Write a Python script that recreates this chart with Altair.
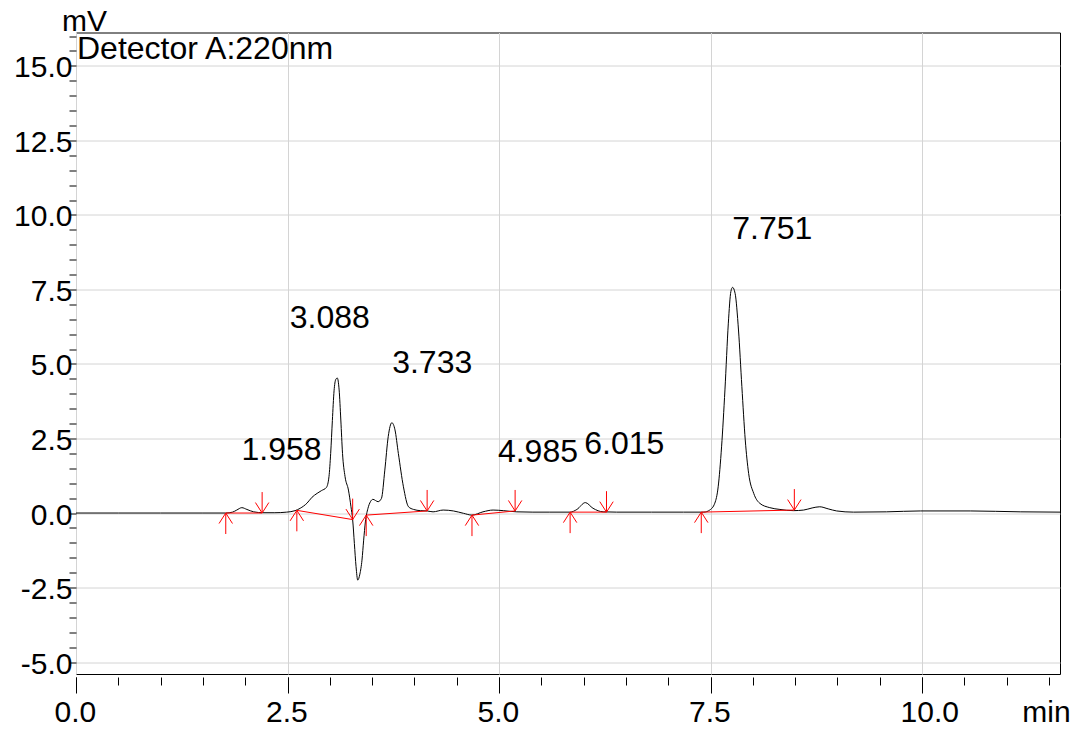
import altair as alt
import pandas as pd

FONT = "Liberation Sans"

# ---- chromatogram trace (time in min, signal in mV) ----
time_min = [0.00, 0.50, 1.00, 1.50, 1.77, 1.85, 1.90, 1.96, 2.02, 2.10, 2.21, 2.35,
            2.49, 2.59, 2.65, 2.73, 2.79, 2.85, 2.90, 2.96, 2.99, 3.01, 3.03, 3.05,
            3.07, 3.088, 3.11, 3.13, 3.15, 3.18, 3.22, 3.25, 3.27, 3.29, 3.31, 3.33,
            3.355, 3.38, 3.40, 3.42, 3.45, 3.48, 3.51, 3.54, 3.57, 3.61, 3.65, 3.69,
            3.733, 3.77, 3.81, 3.87, 3.93, 3.99, 4.07, 4.15, 4.22, 4.34, 4.46, 4.58,
            4.68, 4.81, 4.93, 5.05, 5.21, 5.40, 5.60, 5.84, 5.92, 6.02, 6.11, 6.23,
            6.39, 6.80, 7.18, 7.42, 7.49, 7.55, 7.59, 7.63, 7.67, 7.71, 7.74, 7.76,
            7.79, 7.83, 7.87, 7.91, 7.95, 8.01, 8.08, 8.20, 8.32, 8.48, 8.60, 8.70,
            8.79, 8.89, 8.99, 9.19, 9.58, 9.98, 10.57, 11.16, 11.63]
signal_mv = [0.00, 0.00, 0.00, 0.00, 0.00, 0.03, 0.10, 0.18, 0.12, 0.04, 0.01, 0.01,
             0.03, 0.08, 0.16, 0.33, 0.53, 0.66, 0.75, 0.86, 1.22, 2.00, 3.10, 4.10,
             4.48, 4.53, 4.13, 3.12, 2.00, 1.22, 0.77, 0.21, -0.23, -1.02, -1.80, -2.25,
             -2.05, -1.58, -0.91, -0.30, 0.15, 0.38, 0.46, 0.42, 0.38, 0.49, 1.44, 2.56,
             3.03, 2.79, 2.00, 0.88, 0.21, 0.12, 0.08, 0.07, 0.04, 0.10, 0.07, -0.01,
             -0.07, 0.04, 0.10, 0.08, 0.04, 0.03, 0.03, 0.03, 0.12, 0.35, 0.16, 0.04,
             0.03, 0.03, 0.03, 0.03, 0.10, 0.33, 0.88, 2.22, 4.13, 6.37, 7.43, 7.57,
             7.37, 6.14, 4.24, 2.45, 1.33, 0.66, 0.33, 0.18, 0.12, 0.08, 0.10, 0.17,
             0.21, 0.14, 0.07, 0.03, 0.04, 0.07, 0.07, 0.04, 0.03]

# ---- peak retention-time labels ----
peak_labels = ["1.958", "3.088", "3.733", "4.985", "6.015", "7.751"]
label_t = [2.43, 3.00, 4.21, 5.46, 6.48, 8.23]
label_v = [2.11, 6.54, 5.03, 2.05, 2.32, 9.53]

# ---- integration baselines: peak start (up arrow) and end (down arrow) ----
start_t = [1.77, 2.61, 3.43, 4.68, 5.84, 7.39]
start_v = [0.00, 0.09, -0.07, -0.07, 0.03, 0.03]
end_t = [2.20, 3.27, 4.15, 5.19, 6.27, 8.49]
end_v = [0.00, -0.22, 0.07, 0.07, 0.03, 0.10]

# ---- axes ----
x_major = [0.0, 2.5, 5.0, 7.5, 10.0]
x_minor = [0.0, 0.5, 1.0, 1.5, 2.0, 2.5, 3.0, 3.5, 4.0, 4.5, 5.0, 5.5, 6.0, 6.5,
           7.0, 7.5, 8.0, 8.5, 9.0, 9.5, 10.0, 10.5, 11.0, 11.5]
y_ticks = [-5.0, -4.5, -4.0, -3.5, -3.0, -2.5, -2.0, -1.5, -1.0, -0.5, 0.0, 0.5,
           1.0, 1.5, 2.0, 2.5, 3.0, 3.5, 4.0, 4.5, 5.0, 5.5, 6.0, 6.5, 7.0, 7.5,
           8.0, 8.5, 9.0, 9.5, 10.0, 10.5, 11.0, 11.5, 12.0, 12.5, 13.0, 13.5,
           14.0, 14.5, 15.0, 15.5, 16.0]
x_domain = [0.0, 11.63]
y_domain = [-5.4, 16.12]
detector_text = "Detector A:220nm"

trace_df = pd.DataFrame({"t": time_min, "v": signal_mv})
labels_df = pd.DataFrame({"t": label_t, "v": label_v, "label": peak_labels})
seg_df = pd.DataFrame({"t0": start_t, "v0": start_v, "t1": end_t, "v1": end_v})
start_df = pd.DataFrame({"t": start_t, "v": start_v})
end_df = pd.DataFrame({"t": end_t, "v": end_v})
det_df = pd.DataFrame({"label": [detector_text]})

xs = alt.Scale(domain=x_domain, nice=False, zero=False)
ys = alt.Scale(domain=y_domain, nice=False, zero=False)

major_cond = "abs(datum.value % 2.5) < 0.01"

x_axis_major = alt.Axis(
    orient="bottom", values=x_major, format=".1f", offset=3, domain=False,
    tickSize=16, tickColor="black", tickWidth=1,
    grid=True, gridColor="#d4d4d4", gridWidth=1,
    labelFont=FONT, labelFontSize=30, labelColor="black",
    labelAlign="left", labelOffset=-22, labelBaseline="alphabetic", labelPadding=28,
    labelFlush=False, labelOverlap=False, labelBound=False,
    title="min", titleFont=FONT, titleFontSize=30, titleFontWeight="normal",
    titleColor="black", titleX=970, titleY=44, titleAlign="center",
    titleBaseline="alphabetic", titleAngle=0,
)
x_axis_minor = alt.Axis(
    orient="bottom", values=x_minor, offset=3, domain=False,
    tickSize=8, tickColor="black", tickWidth=1,
    grid=False, labels=False, title="",
)
y_axis = alt.Axis(
    orient="left", values=y_ticks, domain=False,
    tickSize=7, tickColor="black", tickWidth=1,
    grid=True, gridColor="#d4d4d4", gridWidth=1,
    gridOpacity=alt.condition(major_cond, alt.value(1), alt.value(0)),
    labelExpr=("abs(datum.value % 2.5) < 0.01 ? "
               "((datum.value < 0 ? '-' : '') + format(abs(datum.value), '.1f')) : ''"),
    labelFont=FONT, labelFontSize=30, labelColor="black",
    labelPadding=-3, labelBaseline="middle", labelOffset=2,
    labelFlush=False, labelOverlap=False, labelBound=False,
    title="mV", titleFont=FONT, titleFontSize=30, titleFontWeight="normal",
    titleColor="black", titleAngle=0, titleX=8, titleY=-2.5,
    titleAlign="center", titleBaseline="alphabetic",
)

trace = alt.Chart(trace_df).mark_line(
    color="black", strokeWidth=1, interpolate="monotone", clip=True
).encode(
    x=alt.X("t:Q", scale=xs, axis=x_axis_major),
    y=alt.Y("v:Q", scale=ys, axis=y_axis),
)

baselines = alt.Chart(seg_df).mark_rule(color="red", strokeWidth=1).encode(
    x=alt.X("t0:Q", scale=xs, axis=x_axis_minor),
    x2="t1:Q",
    y=alt.Y("v0:Q", scale=ys, axis=y_axis),
    y2="v1:Q",
)

UP = "M0,0L0,2M-0.64,1L0,0L0.64,1"
DOWN = "M0,0L0,-2M-0.64,-1L0,0L0.64,-1"

up_arrows = alt.Chart(start_df).mark_point(
    shape=UP, size=440, filled=False, color="red", strokeWidth=1, opacity=1
).encode(
    x=alt.X("t:Q", scale=xs, axis=None),
    y=alt.Y("v:Q", scale=ys, axis=y_axis),
)
down_arrows = alt.Chart(end_df).mark_point(
    shape=DOWN, size=440, filled=False, color="red", strokeWidth=1, opacity=1
).encode(
    x=alt.X("t:Q", scale=xs, axis=None),
    y=alt.Y("v:Q", scale=ys, axis=y_axis),
)

peak_text = alt.Chart(labels_df).mark_text(
    font=FONT, fontSize=32, color="black", align="center", baseline="middle"
).encode(
    x=alt.X("t:Q", scale=xs, axis=None),
    y=alt.Y("v:Q", scale=ys, axis=y_axis),
    text="label:N",
)

det_text = alt.Chart(det_df).mark_text(
    font=FONT, fontSize=32, color="black", align="left", baseline="alphabetic"
).encode(
    x=alt.value(1), y=alt.value(26), text="label:N",
)

chart = alt.layer(
    trace, baselines, up_arrows, down_arrows, peak_text, det_text
).resolve_axis(
    x="independent"
).properties(
    width=984, height=641.5,
    autosize=alt.AutoSizeParams(type="none"),
    padding={"left": 76, "top": 32.5, "right": 22, "bottom": 59},
    background="white",
).configure_view(
    stroke="black", strokeWidth=1,
)

chart.save("out.html", embed_options={"renderer": "svg", "actions": False})
